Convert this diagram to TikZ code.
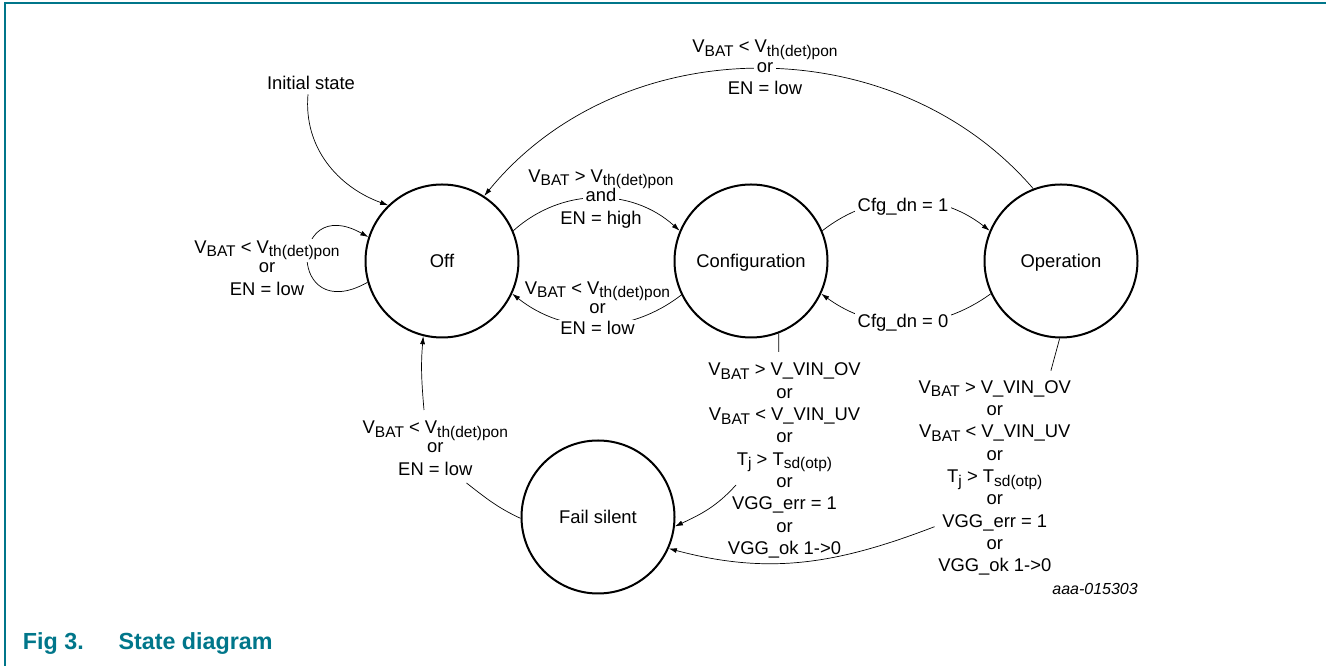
\documentclass[tikz,border=0pt]{standalone}
\usepackage{fontspec}
\setmainfont{Liberation Sans}
\usetikzlibrary{arrows.meta}
\definecolor{nxpteal}{RGB}{0,118,138}
\newcommand\sbx[1]{\raisebox{-0.2em}{\fontsize{15.5}{15.5}\selectfont #1}}
\begin{document}
\begin{tikzpicture}[x=1pt,y=1pt,
  state/.style={circle, draw, line width=2pt, minimum size=153pt, inner sep=0pt,
    text height=13.3pt, text depth=0pt, font=\fontsize{18.4}{22}\selectfont},
  lbl/.style={inner sep=0pt, anchor=base, font=\fontsize{18.4}{22}\selectfont},
  wbg/.style={fill=white, inner xsep=2.5pt, inner ysep=1.5pt},
  conn/.style={line width=0.7pt},
  arr/.style={conn, -{Latex[length=8pt,width=5pt]}}]

\useasboundingbox (0,0) rectangle (1326,666);
\draw[nxpteal, line width=1.5pt] (5,0) -- (5,663) -- (1326,663);

% states
\node[state] (off)  at (442,405) {Off};
\node[state] (conf) at (751,405) {Configuration};
\node[state] (op)   at (1061,405) {Operation};
\node[state] (fail) at (598,149) {Fail silent};

% free ends where connectors meet label blocks
\coordinate (cfA) at (778.8,314);
\coordinate (cfB) at (736,181);
\coordinate (opA) at (1050.9,295.3);
\coordinate (opB) at (934.5,139.3);
\coordinate (fiA) at (466.5,183);
\coordinate (fiB) at (424,256);

% initial state
\node[lbl] (init) at (311,576) {Initial state};
\draw[arr] ([xshift=-3pt,yshift=-4pt]init.south) to[out=265,in=160] (off.134);

% connectors
\draw[arr] (off.196) .. controls +(-80,-45) and +(-80,45) .. (off.162);
\draw[arr] (off.23) to[bend left=42] (conf.157);
\draw[arr] (conf.206) to[bend left=38] (off.-25);
\draw[arr] (conf.23) to[bend left=38] (op.157);
\draw[arr] (op.205) to[bend left=36] (conf.-25);
\draw[arr] (op.111) to[bend right=50] (off.57);
\draw[conn] (conf.-69) -- (cfA);
\draw[arr] (cfB) to[out=228,in=25] (fail.-7);
\draw[conn] (op.-91) -- (opA);
\draw[arr] (opB) to[out=201,in=-15] (fail.-24);
\draw[conn] (fail.181) to[out=155,in=-38] (fiA);
\draw[arr] (fiB) to[out=95,in=265] (off.256);

% labels
\node[lbl,wbg] (sl1) at (267,412.7) {V\sbx{BAT} < V\sbx{th(det)pon}};
\node[lbl] (sl2) at (267,393.2) {or};
\node[lbl] (sl3) at (267,370.7) {EN = low};

\node[lbl] (oc1) at (601,483.7) {V\sbx{BAT} > V\sbx{th(det)pon}};
\node[lbl,wbg] (oc2) at (601,464.3) {and};
\node[lbl] (oc3) at (601,441.7) {EN = high};

\node[lbl] (co1) at (597.5,371.7) {V\sbx{BAT} < V\sbx{th(det)pon}};
\node[lbl] (co2) at (597.5,352.7) {or};
\node[lbl,wbg] (co3) at (597.5,331) {EN = low};

\node[lbl] (po1) at (765,613.3) {V\sbx{BAT} < V\sbx{th(det)pon}};
\node[lbl,wbg] (po2) at (765,593.3) {or};
\node[lbl] (po3) at (765,571) {EN = low};

\node[lbl,wbg] (cd1) at (903,454.3) {Cfg\_dn = 1};
\node[lbl,wbg] (cd0) at (903,338) {Cfg\_dn = 0};

\foreach \t [count=\i] in {{V\sbx{BAT} > V\_VIN\_OV}, or, {V\sbx{BAT} < V\_VIN\_UV}, or,
  {T\sbx{j} > T\sbx{sd(otp)}}, or, {VGG\_err = 1}, or, {VGG\_ok 1->0}}
  {\node[lbl] (cf\i) at (784.5,{290-22.3*(\i-1)}) {\t};
   \node[lbl] (of\i) at (994.8,{272.7-22.3*(\i-1)}) {\t};}

\node[lbl] (fo1) at (435.3,232) {V\sbx{BAT} < V\sbx{th(det)pon}};
\node[lbl] (fo2) at (435.3,213.3) {or};
\node[lbl] (fo3) at (435.3,190.3) {EN = low};

\node[inner sep=0pt, anchor=base east, font=\itshape\fontsize{16}{19}\selectfont] (code) at (1138,71.7) {aaa-015303};

\node[inner sep=0pt, anchor=base west, text=nxpteal, font=\bfseries\fontsize{23.3}{27}\selectfont] (fig) at (22.7,16) {Fig 3.};
\node[inner sep=0pt, anchor=base west, text=nxpteal, font=\bfseries\fontsize{23.3}{27}\selectfont] (title) at (118.3,16) {State diagram};
\end{tikzpicture}
\end{document}
